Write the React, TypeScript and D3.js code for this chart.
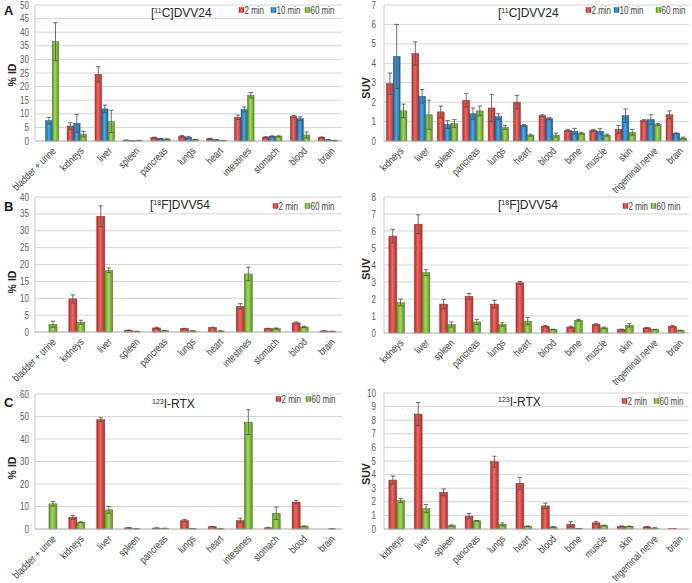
import React from "react";
import * as d3 from "d3";

// ---------- categories ----------
const leftCats = ["bladder + urine", "kidneys", "liver", "spleen", "pancreas", "lungs", "heart", "intestines", "stomach", "blood", "brain"];
const rightCats = ["kidneys", "liver", "spleen", "pancreas", "lungs", "heart", "blood", "bone", "muscle", "skin", "trigeminal nerve", "brain"];
const series3 = ["2 min", "10 min", "60 min"];
const series2 = ["2 min", "60 min"];

// ---------- A: [11C]DVV24, %ID ----------
const aPid2 = [0, 5.5, 24.5, 0.3, 1.2, 1.7, 0.8, 8.7, 1.4, 9.0, 1.3];
const aPid2Err = [0, 1.2, 2.8, 0.1, 0.2, 0.3, 0.2, 0.8, 0.2, 0.4, 0.2];
const aPid10 = [7.5, 6.5, 11.8, 0.1, 0.8, 1.3, 0.4, 11.6, 1.7, 8.2, 0.4];
const aPid10Err = [1.2, 3.3, 1.4, 0.05, 0.1, 0.4, 0.1, 0.9, 0.2, 0.7, 0.1];
const aPid60 = [36.5, 2.5, 7.2, 0.2, 0.7, 0.5, 0.2, 16.8, 1.7, 2.2, 0.2];
const aPid60Err = [7.0, 1.0, 4.1, 0.05, 0.1, 0.1, 0.05, 1.0, 0.2, 1.1, 0.05];

// ---------- A: [11C]DVV24, SUV ----------
const aSuv2 = [2.95, 4.5, 1.5, 2.1, 1.7, 2.0, 1.3, 0.55, 0.55, 0.6, 1.05, 1.35];
const aSuv2Err = [0.55, 0.6, 0.3, 0.35, 0.7, 0.35, 0.05, 0.05, 0.05, 0.2, 0.05, 0.2];
const aSuv10 = [4.35, 2.3, 0.85, 1.4, 1.25, 0.8, 1.15, 0.5, 0.5, 1.3, 1.1, 0.4];
const aSuv10Err = [1.65, 0.35, 0.2, 0.3, 0.15, 0.05, 0.05, 0.15, 0.15, 0.35, 0.25, 0.02];
const aSuv60 = [1.55, 1.35, 0.9, 1.55, 0.7, 0.3, 0.3, 0.4, 0.3, 0.45, 0.85, 0.15];
const aSuv60Err = [0.35, 0.75, 0.2, 0.25, 0.1, 0.05, 0.1, 0.05, 0.05, 0.15, 0.05, 0.05];

// ---------- B: [18F]DVV54, %ID ----------
const bPid2 = [0, 9.8, 34.3, 0.5, 1.2, 1.0, 1.3, 7.6, 1.0, 2.7, 0.3];
const bPid2Err = [0, 1.2, 3.1, 0.1, 0.2, 0.1, 0.1, 0.8, 0.1, 0.3, 0.05];
const bPid60 = [2.3, 2.9, 18.3, 0.2, 0.4, 0.3, 0.3, 17.2, 1.0, 1.5, 0.2];
const bPid60Err = [0.9, 0.6, 0.7, 0.05, 0.05, 0.05, 0.05, 2.0, 0.2, 0.2, 0.05];

// ---------- B: [18F]DVV54, SUV ----------
const bSuv2 = [5.7, 6.4, 1.7, 2.15, 1.7, 2.95, 0.4, 0.35, 0.5, 0.2, 0.3, 0.4];
const bSuv2Err = [0.4, 0.55, 0.28, 0.17, 0.22, 0.08, 0.05, 0.05, 0.05, 0.03, 0.03, 0.05];
const bSuv60 = [1.8, 3.55, 0.5, 0.65, 0.5, 0.7, 0.2, 0.75, 0.3, 0.45, 0.2, 0.15];
const bSuv60Err = [0.2, 0.17, 0.15, 0.15, 0.1, 0.22, 0.02, 0.05, 0.05, 0.1, 0.02, 0.02];

// ---------- C: 123I-RTX, %ID ----------
const cPid2 = [0, 5.2, 48.6, 0.5, 0.4, 3.7, 1.0, 3.8, 0.5, 12.0, 0];
const cPid2Err = [0, 0.8, 0.9, 0.1, 0.1, 0.5, 0.1, 1.0, 0.1, 0.8, 0];
const cPid60 = [11.2, 3.0, 8.5, 0.1, 0.3, 0.2, 0.1, 47.5, 7.0, 1.2, 0.1];
const cPid60Err = [1.0, 0.2, 1.5, 0.05, 0.05, 0.05, 0.05, 5.5, 2.8, 0.2, 0.05];

// ---------- C: 123I-RTX, SUV ----------
const cSuv2 = [3.6, 8.45, 2.7, 0.95, 4.95, 3.35, 1.7, 0.35, 0.45, 0.2, 0.15, 0.02];
const cSuv2Err = [0.3, 0.85, 0.25, 0.2, 0.4, 0.45, 0.2, 0.2, 0.1, 0.03, 0.03, 0];
const cSuv60 = [2.1, 1.5, 0.25, 0.6, 0.35, 0.2, 0.15, 0.03, 0.25, 0.2, 0.07, 0];
const cSuv60Err = [0.15, 0.3, 0.05, 0.02, 0.1, 0.03, 0.02, 0.01, 0.03, 0.02, 0.01, 0];

const COLORS: Record<string, { id: string; dark: string; light: string; stroke: string }> = {
  "2 min": { id: "gRed", dark: "#b32e2c", light: "#ec6a63", stroke: "#9c2422" },
  "10 min": { id: "gBlue", dark: "#15649f", light: "#4fa6e0", stroke: "#11558a" },
  "60 min": { id: "gGreen", dark: "#5a9220", light: "#a6d862", stroke: "#4d7d1b" },
};

const FONT = "'Liberation Sans', Arial, sans-serif";
const SQ = 0.8; // horizontal squeeze to mimic a narrow face

type Series = { name: string; values: number[]; errs: number[] };

interface PanelProps {
  x0: number; x1: number; yTop: number; yBot: number; yMax: number; step: number;
  cats: string[]; series: Series[]; bw: number;
  sup: string; titleRest: string; bracket: boolean; titleX: number; titleY: number;
  legendX: number[]; legendY: number;
  yLabel: string; yLabelX: number; yLabelY: number; tickGap: number;
}

function Panel(p: PanelProps) {
  const y = d3.scaleLinear().domain([0, p.yMax]).range([p.yBot, p.yTop]);
  const x = d3.scaleBand<string>().domain(p.cats).range([p.x0, p.x1]).padding(0);
  const ticks = d3.range(0, p.yMax + p.step / 2, p.step);
  const n = p.series.length;
  return (
    <g>
      {ticks.map((t) => (
        <g key={t}>
          {t > 0 && <line x1={p.x0} x2={p.x1} y1={y(t)} y2={y(t)} stroke="#d4d4d4" strokeWidth={1} />}
          <text transform={`translate(${p.x0 - p.tickGap},${y(t)}) scale(${SQ},1)`} dy="0.35em" textAnchor="end" fontSize={10} fill="#595959" fontFamily={FONT}>{t}</text>
        </g>
      ))}
      <line x1={p.x0} x2={p.x0} y1={p.yTop} y2={p.yBot} stroke="#c8c8c8" />
      {p.series.map((s, si) => {
        const c = COLORS[s.name];
        return (
          <g key={s.name}>
            {p.cats.map((cat, ci) => {
              const v = s.values[ci];
              const e = s.errs[ci];
              const cx = (x(cat) as number) + x.bandwidth() / 2 + (si - (n - 1) / 2) * p.bw;
              const top = y(v);
              return (
                <g key={cat}>
                  {v > 0 && (
                    <rect x={cx - p.bw / 2} y={top} width={p.bw} height={p.yBot - top} fill={`url(#${c.id})`} stroke={c.stroke} strokeWidth={0.5} />
                  )}
                  {e > 0 && (
                    <g stroke="#4a4a4a" strokeWidth={0.8}>
                      <line x1={cx} x2={cx} y1={y(v + e)} y2={y(Math.max(0, v - e))} />
                      <line x1={cx - 2.2} x2={cx + 2.2} y1={y(v + e)} y2={y(v + e)} />
                      <line x1={cx - 2.2} x2={cx + 2.2} y1={y(Math.max(0, v - e))} y2={y(Math.max(0, v - e))} />
                    </g>
                  )}
                </g>
              );
            })}
          </g>
        );
      })}
      <line x1={p.x0} x2={p.x1} y1={p.yBot} y2={p.yBot} stroke="#a6a6a6" strokeWidth={1} />
      {p.cats.map((cat) => {
        const cx = (x(cat) as number) + x.bandwidth() / 2;
        return (
          <text key={cat} transform={`translate(${cx + 5},${p.yBot + 8}) rotate(-45) scale(${SQ},1)`} textAnchor="end" dy="0.35em" fontSize={10.5} fill="#404040" fontFamily={FONT}>{cat}</text>
        );
      })}
      <text x={p.titleX} y={p.titleY} fontSize={12} fill="#262626" fontFamily={FONT}>
        {p.bracket ? "[" : null}
        <tspan fontSize={7} dy={-4.5}>{p.sup}</tspan>
        <tspan dy={4.5}>{p.titleRest}</tspan>
      </text>
      {p.series.map((s, si) => {
        const c = COLORS[s.name];
        return (
          <g key={s.name}>
            <rect x={p.legendX[si]} y={p.legendY - 2.5} width={5} height={5} fill={`url(#${c.id})`} stroke={c.stroke} strokeWidth={0.4} />
            <text transform={`translate(${p.legendX[si] + 5.5},${p.legendY}) scale(${SQ},1)`} dy="0.35em" fontSize={10} fill="#404040" fontFamily={FONT}>{s.name}</text>
          </g>
        );
      })}
      <text transform={`translate(${p.yLabelX},${p.yLabelY}) rotate(-90)`} textAnchor="middle" fontSize={10.5} fontWeight="bold" fill="#262626" fontFamily={FONT}>{p.yLabel}</text>
    </g>
  );
}

const mk = (names: string[], vals: number[][], errs: number[][]): Series[] =>
  names.map((name, i) => ({ name, values: vals[i], errs: errs[i] }));

export default function App() {
  const L = { x0: 35, x1: 342, tickGap: 6, yLabel: "% ID", yLabelX: 16 };
  const R = { x0: 384, x1: 689, tickGap: 8, yLabel: "SUV", yLabelX: 370 };
  return (
    <svg width={692} height={583} style={{ position: "absolute", left: 0, top: 0, background: "#fff" }}>
      <defs>
        {Object.values(COLORS).map((c) => (
          <linearGradient key={c.id} id={c.id} x1="0" x2="1" y1="0" y2="0">
            <stop offset="0" stopColor={c.dark} />
            <stop offset="0.45" stopColor={c.light} />
            <stop offset="1" stopColor={c.dark} />
          </linearGradient>
        ))}
      </defs>
      <rect width={692} height={583} fill="#fff" />
      {/* A */}
      <Panel {...L} yTop={5} yBot={141} yMax={50} step={5} cats={leftCats} bw={6.5}
        series={mk(series3, [aPid2, aPid10, aPid60], [aPid2Err, aPid10Err, aPid60Err])}
        sup="11" titleRest="C]DVV24" bracket titleX={151} titleY={17}
        legendX={[239, 271, 305]} legendY={10} yLabelY={75} />
      <Panel {...R} yTop={5} yBot={141} yMax={7} step={1} cats={rightCats} bw={6.8}
        series={mk(series3, [aSuv2, aSuv10, aSuv60], [aSuv2Err, aSuv10Err, aSuv60Err])}
        sup="11" titleRest="C]DVV24" bracket titleX={498} titleY={17}
        legendX={[586, 614, 656]} legendY={10} yLabelY={88} />
      {/* B */}
      <Panel {...L} yTop={197} yBot={332} yMax={40} step={5} cats={leftCats} bw={8}
        series={mk(series2, [bPid2, bPid60], [bPid2Err, bPid60Err])}
        sup="18" titleRest="F]DVV54" bracket titleX={150} titleY={209}
        legendX={[273, 305]} legendY={206} yLabelY={282} />
      <Panel {...R} yTop={197} yBot={333} yMax={8} step={1} cats={rightCats} bw={7.8}
        series={mk(series2, [bSuv2, bSuv60], [bSuv2Err, bSuv60Err])}
        sup="18" titleRest="F]DVV54" bracket titleX={498} titleY={209}
        legendX={[623, 651]} legendY={206} yLabelY={269} />
      {/* C */}
      <Panel {...L} yTop={394} yBot={529} yMax={60} step={10} cats={leftCats} bw={8}
        series={mk(series2, [cPid2, cPid60], [cPid2Err, cPid60Err])}
        sup="123" titleRest="I-RTX" bracket={false} titleX={152} titleY={408}
        legendX={[276, 306]} legendY={399} yLabelY={468} />
      <Panel {...R} yTop={393} yBot={529} yMax={10} step={1} cats={rightCats} bw={7.8}
        series={mk(series2, [cSuv2, cSuv60], [cSuv2Err, cSuv60Err])}
        sup="123" titleRest="I-RTX" bracket={false} titleX={498} titleY={406}
        legendX={[622, 654]} legendY={401} yLabelY={474} />
      {/* panel letters */}
      <g fontFamily={FONT} fontWeight="bold" fontSize={13} fill="#1a1a1a">
        <text x={4} y={15}>A</text>
        <text x={4} y={211}>B</text>
        <text x={4} y={407}>C</text>
      </g>
    </svg>
  );
}
